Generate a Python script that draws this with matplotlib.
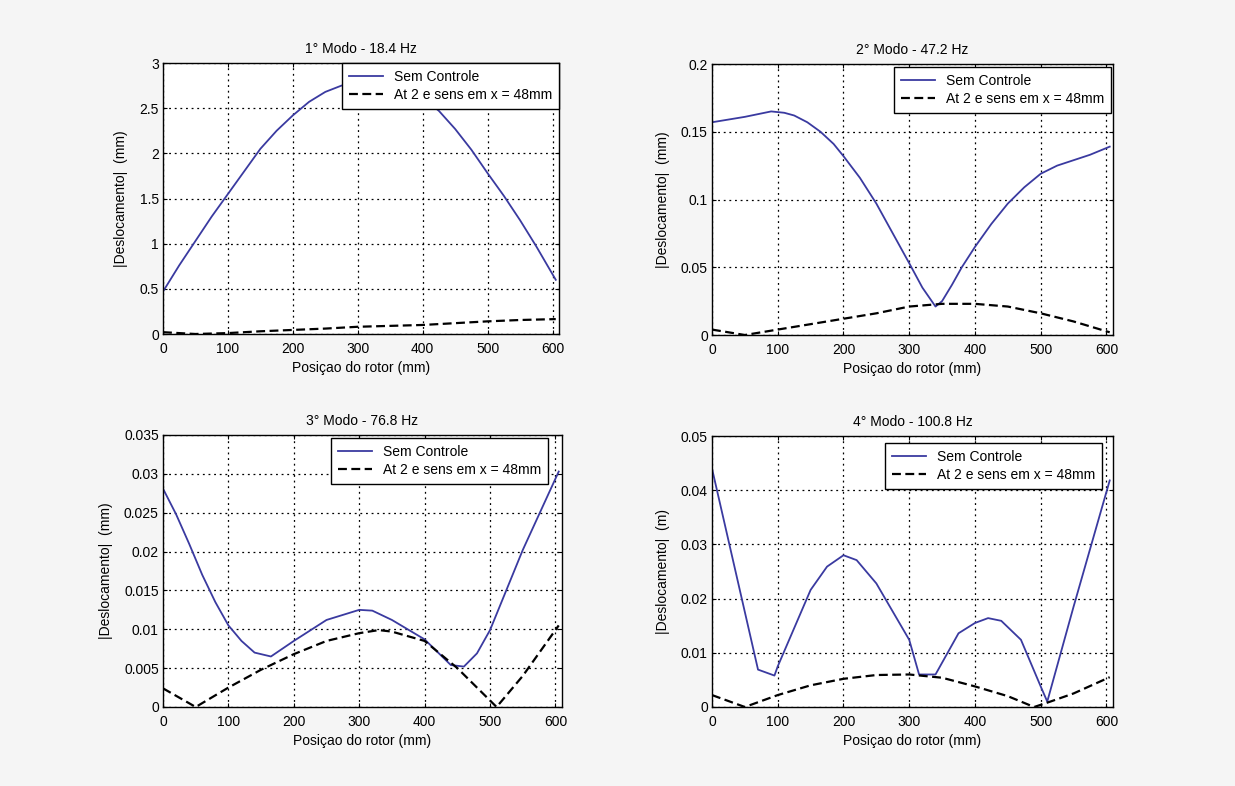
import numpy as np
import matplotlib
matplotlib.use('Agg')
import matplotlib.pyplot as plt

plt.rcParams['font.family'] = ['Liberation Sans', 'DejaVu Sans']
plt.rcParams['font.size'] = 10

# --- dados ---
titulos = ['1° Modo - 18.4 Hz', '2° Modo - 47.2 Hz', '3° Modo - 76.8 Hz', '4° Modo - 100.8 Hz']
ylabels = ['|Deslocamento|  (mm)', '|Deslocamento|  (mm)', '|Deslocamento|  (mm)', '|Deslocamento|  (m)']
xlabel = 'Posiçao do rotor (mm)'
leg_sem = 'Sem Controle'
leg_com = 'At 2 e sens em x = 48mm'

# modo 1
x1_sem = [0, 25, 50, 75, 100, 125, 150, 175, 200, 225, 250, 275, 300, 325, 350, 375, 400, 425,
          450, 475, 500, 525, 550, 575, 605]
y1_sem = [0.47, 0.76, 1.03, 1.3, 1.55, 1.8, 2.05, 2.25, 2.42, 2.57, 2.68, 2.75, 2.78, 2.79, 2.76,
          2.7, 2.62, 2.47, 2.27, 2.04, 1.78, 1.53, 1.26, 0.97, 0.6]
x1_com = [0, 50, 100, 150, 200, 250, 300, 350, 400, 450, 500, 550, 605]
y1_com = [0.02, 0.0, 0.01, 0.03, 0.045, 0.06, 0.08, 0.09, 0.1, 0.12, 0.14, 0.155, 0.165]

# modo 2
x2_sem = [0, 25, 50, 70, 90, 110, 125, 145, 165, 185, 200, 225, 250, 275, 300, 320, 340, 350,
          365, 380, 400, 425, 450, 475, 500, 525, 550, 575, 605]
y2_sem = [0.157, 0.159, 0.161, 0.163, 0.165, 0.164, 0.162, 0.157, 0.15, 0.141, 0.132, 0.116,
          0.097, 0.075, 0.053, 0.035, 0.021, 0.025, 0.037, 0.05, 0.065, 0.082, 0.097, 0.109,
          0.119, 0.125, 0.129, 0.133, 0.139]
x2_com = [0, 50, 100, 150, 200, 250, 300, 350, 400, 450, 500, 550, 605]
y2_com = [0.004, 0.0, 0.004, 0.008, 0.012, 0.016, 0.021, 0.023, 0.023, 0.021, 0.016, 0.01, 0.002]

# modo 3
x3_sem = [0, 20, 40, 60, 80, 100, 120, 140, 165, 200, 250, 300, 320, 350, 400, 440, 460, 480,
          500, 550, 605]
y3_sem = [0.0281, 0.0248, 0.021, 0.017, 0.0135, 0.0105, 0.0085, 0.007, 0.0065, 0.0085, 0.0112,
          0.0125, 0.0124, 0.0112, 0.0087, 0.0054, 0.0052, 0.0069, 0.0099, 0.0202, 0.0303]
x3_com = [0, 50, 100, 150, 200, 250, 300, 330, 350, 400, 450, 480, 510, 550, 605]
y3_com = [0.0024, 0.0, 0.0025, 0.0048, 0.0068, 0.0085, 0.0095, 0.0099, 0.0097, 0.0085, 0.005,
          0.0025, 0.0, 0.004, 0.0105]

# modo 4
x4_sem = [0, 70, 95, 100, 150, 175, 200, 220, 250, 300, 315, 340, 375, 400, 420, 440, 470, 500,
          510, 550, 605]
y4_sem = [0.044, 0.0069, 0.0058, 0.0075, 0.0216, 0.0259, 0.028, 0.0271, 0.0228, 0.0124, 0.006,
          0.006, 0.0136, 0.0155, 0.0164, 0.0159, 0.0124, 0.0038, 0.001, 0.0185, 0.0418]
x4_com = [0, 50, 100, 150, 200, 250, 300, 350, 400, 450, 490, 510, 550, 605]
y4_com = [0.0022, 0.0, 0.0022, 0.004, 0.0052, 0.0059, 0.006, 0.0054, 0.0038, 0.002, 0.0, 0.0008,
          0.0025, 0.0055]

xticks = [0, 100, 200, 300, 400, 500, 600]
yticks = [
    [0, 0.5, 1, 1.5, 2, 2.5, 3],
    [0, 0.05, 0.1, 0.15, 0.2],
    [0, 0.005, 0.01, 0.015, 0.02, 0.025, 0.03, 0.035],
    [0, 0.01, 0.02, 0.03, 0.04, 0.05],
]
yticklabels = [
    ['0', '0.5', '1', '1.5', '2', '2.5', '3'],
    ['0', '0.05', '0.1', '0.15', '0.2'],
    ['0', '0.005', '0.01', '0.015', '0.02', '0.025', '0.03', '0.035'],
    ['0', '0.01', '0.02', '0.03', '0.04', '0.05'],
]

series = [
    (x1_sem, y1_sem, x1_com, y1_com),
    (x2_sem, y2_sem, x2_com, y2_com),
    (x3_sem, y3_sem, x3_com, y3_com),
    (x4_sem, y4_sem, x4_com, y4_com),
]

W, H = 1235, 786
fig = plt.figure(figsize=(W / 100, H / 100), dpi=100, facecolor='#f5f5f5')

# posições dos eixos em pixels (esq, topo, dir, baixo)
caixas = [(163, 63, 559, 334), (712, 64, 1113, 335), (163, 435, 562, 707), (712, 436, 1113, 707)]
# canto superior direito de cada legenda, em pixels
cantos_leg = [(559, 63), (1111, 67), (548, 438), (1102, 443)]

for i, (xs, ys, xc, yc) in enumerate(series):
    l, t, r, b = caixas[i]
    ax = fig.add_axes([l / W, 1 - b / H, (r - l) / W, (b - t) / H])
    ax.set_facecolor('white')
    ax.plot(xs, ys, color='#3a3aa0', linewidth=1.3, label=leg_sem)
    ax.plot(xc, yc, color='black', linewidth=1.6, linestyle=(0, (4, 2)), label=leg_com)
    ax.set_xlim(0, 610)
    ax.set_ylim(yticks[i][0], yticks[i][-1])
    ax.set_xticks(xticks)
    ax.set_yticks(yticks[i])
    ax.set_yticklabels(yticklabels[i])
    ax.tick_params(direction='in', length=3, labelsize=10, top=True, right=True)
    ax.tick_params(axis='x', pad=6)
    ax.tick_params(axis='y', pad=3)
    ax.grid(True, color='black', linestyle=(0, (1.5, 3)), linewidth=0.9)
    for s in ax.spines.values():
        s.set_linewidth(1.0)
        s.set_color('black')
    ax.set_title(titulos[i], fontsize=10, pad=7)
    ax.set_xlabel(xlabel, fontsize=10, labelpad=3)
    ax.set_ylabel(ylabels[i], fontsize=10, labelpad=8)
    cx, cy = cantos_leg[i]
    leg = ax.legend(loc='upper right', bbox_to_anchor=(cx / W, 1 - cy / H),
                    bbox_transform=fig.transFigure, borderaxespad=0, fontsize=10,
                    handlelength=2.4, fancybox=False, framealpha=1, edgecolor='black',
                    borderpad=0.5, labelspacing=0.3)
    leg.get_frame().set_linewidth(1.0)

fig.savefig('out.png', dpi=100, facecolor=fig.get_facecolor())
